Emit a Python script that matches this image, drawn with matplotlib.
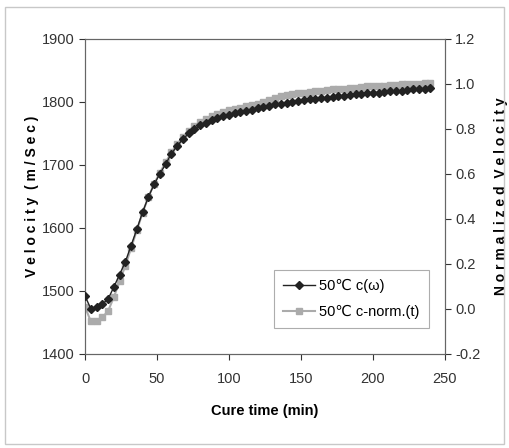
import matplotlib
matplotlib.use('Agg')
import matplotlib.pyplot as plt
from matplotlib.patches import Rectangle

plt.rcParams['font.family'] = ['Liberation Sans', 'DejaVu Sans']

# cure time (min)
cure_time = [0, 4, 8, 12, 16, 20, 24, 28, 32, 36, 40, 44, 48, 52, 56, 60,
             64, 68, 72, 76, 80, 84, 88, 92, 96, 100, 104, 108, 112, 116, 120,
             124, 128, 132, 136, 140, 144, 148, 152, 156, 160, 164, 168, 172,
             176, 180, 184, 188, 192, 196, 200, 204, 208, 212, 216, 220, 224,
             228, 232, 236, 240]

# velocity c(w), m/s (left axis)
velocity = [1492, 1472, 1474, 1479, 1487, 1506, 1526, 1546, 1572, 1598, 1625,
            1649, 1669, 1686, 1701, 1718, 1730, 1741, 1750, 1757, 1763, 1767,
            1771, 1775, 1778, 1780, 1782, 1784, 1786, 1788, 1790, 1792, 1794,
            1796, 1797, 1799, 1800, 1801, 1803, 1804, 1805, 1806, 1807, 1808,
            1809, 1810, 1811, 1812, 1813, 1814, 1815, 1815, 1816, 1817, 1818,
            1818, 1819, 1820, 1820, 1820, 1822]

# normalized velocity c-norm(t) (right axis)
norm_velocity = [0.010, -0.055, -0.052, -0.038, -0.010, 0.052, 0.122, 0.192,
                 0.270, 0.349, 0.427, 0.497, 0.556, 0.606, 0.651, 0.696, 0.732,
                 0.766, 0.791, 0.814, 0.830, 0.844, 0.856, 0.867, 0.875, 0.884,
                 0.889, 0.895, 0.900, 0.906, 0.912, 0.920, 0.928, 0.937, 0.945,
                 0.951, 0.956, 0.959, 0.962, 0.965, 0.968, 0.970, 0.973, 0.976,
                 0.976, 0.979, 0.982, 0.984, 0.987, 0.990, 0.990, 0.993, 0.993,
                 0.996, 0.996, 0.998, 0.998, 1.001, 1.001, 1.004, 1.004]

fig = plt.figure(figsize=(5.09, 4.48), dpi=100)
fig.patches.append(Rectangle((0.01, 0.008), 0.98, 0.977, transform=fig.transFigure,
                             fill=False, edgecolor='#c8c8c8', lw=1.0))

ax = fig.add_axes([0.167, 0.21, 0.707, 0.703])
ax2 = ax.twinx()

gray = '#ababab'
l2, = ax2.plot(cure_time, norm_velocity, color=gray, marker='s', ms=4.5,
               lw=1.5, label='50\u2103 c-norm.(t)', zorder=2)
l1, = ax.plot(cure_time, velocity, color='#222222', marker='D', ms=3.8,
              lw=1.0, label='50\u2103 c(\u03c9)', zorder=3)
ax.set_zorder(ax2.get_zorder() + 1)
ax.patch.set_visible(False)

ax.set_xlim(0, 250)
ax.set_ylim(1400, 1900)
ax2.set_ylim(-0.2, 1.2)
ax.set_xticks([0, 50, 100, 150, 200, 250])
ax.set_yticks([1400, 1500, 1600, 1700, 1800, 1900])
ax2.set_yticks([-0.2, 0.0, 0.2, 0.4, 0.6, 0.8, 1.0, 1.2])
ax2.set_yticklabels(['-0.2', '0.0', '0.2', '0.4', '0.6', '0.8', '1.0', '1.2'])

for a in (ax, ax2):
    a.tick_params(labelsize=10.5, colors='#333333', length=4, width=0.8)
    for s in a.spines.values():
        s.set_color('#666666')
        s.set_linewidth(0.8)
ax.tick_params(axis='x', pad=9)

ax.set_xlabel('Cure time (min)', fontsize=10.5, fontweight='bold', labelpad=13)
ax.set_ylabel('V e l o c i t y  ( m / S e c )', fontsize=10, fontweight='bold', labelpad=2)
ax2.set_ylabel('N o r m a l i z e d  V e l o c i t y', fontsize=10, fontweight='bold', labelpad=10)

leg = ax.legend(handles=[l1, l2], loc='lower right', bbox_to_anchor=(0.975, 0.06),
                fontsize=10.5, frameon=True, fancybox=False, handlelength=2.2,
                borderpad=0.6, labelspacing=0.8, handletextpad=0.3)
leg.get_frame().set_edgecolor('#999999')
leg.get_frame().set_linewidth(0.8)

fig.savefig('out.png', dpi=100)
